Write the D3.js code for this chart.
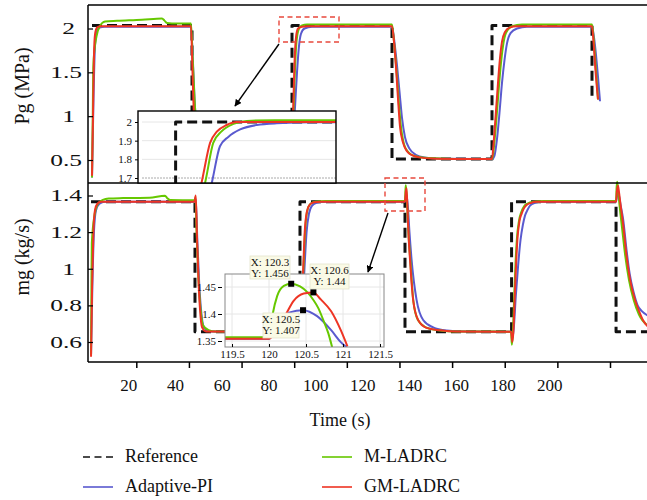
<!DOCTYPE html>
<html>
<head>
<meta charset="utf-8">
<script src="https://cdn.jsdelivr.net/npm/d3@7"></script>
<style>
  body { margin: 0; background: #fff; }
  svg { display: block; }
  svg text { font-family: "Liberation Serif", "Times New Roman", serif; }
</style>
</head>
<body>
<div id="viz"></div>
<script>
const WIDTH = 647, HEIGHT = 500;
const FONT = "Liberation Serif, Times New Roman, serif";
const COLORS = { ref: "#111", pi: "#5a5acf", m: "#66c800", gm: "#ee3424" };

// ---- Pg (MPa), upper panel: [time s, value] ----
const pgRef = [[0,2.035],[40,2.035],[40,0.51],[80,0.51],[80,2.035],[120,2.035],[120,0.51],[160,0.51],[160,2.035],[200,2.035],[200,1.19]];
const pgPI = [[0,0.3],[0.6,1.2],[1.2,1.8],[2,1.97],[3,2.01],[5,2.02],[39.6,2.02],[40.4,1.6],[41.2,1.1],[42.4,0.74],[44,0.58],[48,0.52],[55,0.512],[79.8,0.51],[80.4,0.7],[81.2,1.1],[82,1.5],[82.8,1.8],[83.6,1.94],[85,2.0],[88,2.02],[120,2.02],[121,1.84],[122,1.58],[123,1.28],[124,0.98],[125.2,0.76],[127,0.63],[129.5,0.56],[133,0.53],[140,0.515],[160,0.51],[161,0.55],[162,0.74],[163,1.04],[164,1.38],[165,1.64],[166,1.83],[167.5,1.95],[170,2.0],[174,2.02],[200,2.02],[200.8,1.9],[201.6,1.7],[202.4,1.45],[203.2,1.17]];
const pgM = [[0,0.3],[0.3,1.0],[0.5,1.55],[1,1.76],[1.8,1.91],[3.2,2.03],[5.2,2.08],[10,2.088],[20,2.1],[28,2.115],[29,2.09],[30,2.062],[32,2.058],[39.6,2.058],[40.2,1.7],[41,1.2],[42,0.8],[44,0.58],[48,0.52],[79.8,0.51],[80.3,0.8],[81,1.4],[81.8,1.85],[82.8,2.0],[84,2.035],[86,2.045],[120,2.045],[120.8,1.85],[121.7,1.55],[122.6,1.2],[123.5,0.9],[124.8,0.68],[126.5,0.59],[129,0.545],[134,0.522],[145,0.512],[160,0.51],[160.4,0.56],[161.4,0.84],[162.4,1.2],[163.4,1.55],[164.4,1.8],[165.6,1.95],[168,2.025],[172,2.045],[200,2.045],[200.6,1.9],[201.4,1.6],[202.4,1.19]];
const pgGM = [[0,0.32],[0.4,1.0],[0.8,1.7],[1.2,1.93],[2,2.01],[3.2,2.025],[39.6,2.025],[40.2,1.5],[40.8,1.0],[42,0.66],[44,0.54],[48,0.515],[79.8,0.51],[80.4,1.0],[81,1.6],[81.6,1.9],[82.4,2.0],[84,2.02],[86,2.025],[120,2.025],[120.8,1.85],[121.6,1.56],[122.4,1.2],[123.2,0.88],[124.4,0.7],[126,0.6],[128,0.555],[131,0.53],[136,0.517],[145,0.512],[160,0.51],[160.6,0.68],[161.4,0.98],[162.2,1.3],[163,1.6],[164,1.85],[165.2,1.96],[167,2.01],[170,2.025],[200,2.025],[200.6,1.85],[201.4,1.52],[202.4,1.19]];

// ---- mg (kg/s), lower panel ----
const mgRef = [[2.8,1.366],[42.3,1.366],[42.3,0.656],[82.2,0.656],[82.2,1.366],[122.1,1.366],[122.1,0.656],[162.6,0.656],[162.6,1.366],[202.3,1.366],[202.3,0.656],[216,0.656]];
const mgPI = [[2.8,0.53],[3.3,0.9],[3.9,1.2],[4.7,1.32],[6,1.355],[8,1.366],[42.2,1.366],[42.6,1.38],[43.2,1.15],[43.9,0.92],[44.7,0.76],[45.7,0.68],[47.5,0.66],[50,0.657],[82.4,0.656],[83.2,0.8],[83.9,1.0],[84.7,1.2],[85.6,1.3],[86.8,1.345],[88.5,1.36],[92,1.366],[122.1,1.366],[122.3,1.39],[122.55,1.407],[122.9,1.38],[123.2,1.34],[123.8,1.2],[124.6,1.05],[126.5,0.83],[129,0.72],[132.8,0.68],[137.9,0.663],[145,0.657],[162.5,0.656],[162.9,0.62],[163.4,0.67],[164.2,0.85],[165.1,1.02],[166,1.157],[166.9,1.24],[167.7,1.29],[168.6,1.32],[169.6,1.345],[171.5,1.36],[174,1.366],[202.3,1.366],[202.7,1.40],[203,1.42],[203.4,1.40],[204,1.35],[205,1.27],[206.3,1.1],[207.5,0.97],[209,0.87],[210.5,0.8],[212,0.77],[214.3,0.745]];
const mgM = [[2.8,0.53],[2.95,0.9],[3.1,1.14],[4.2,1.3],[5.2,1.35],[7.3,1.376],[9.5,1.384],[15,1.386],[25,1.388],[30.9,1.399],[31.8,1.385],[32.8,1.376],[42.2,1.374],[42.5,1.39],[42.9,1.2],[43.6,0.95],[44.4,0.78],[45.4,0.69],[47.5,0.665],[50,0.658],[82.3,0.656],[82.9,0.8],[83.5,1.0],[84.2,1.22],[85,1.32],[86.2,1.355],[88,1.366],[92,1.37],[122.1,1.37],[122.25,1.42],[122.4,1.456],[122.7,1.41],[122.95,1.34],[123.4,1.2],[124.1,1.05],[125.3,0.82],[127,0.72],[130,0.68],[134,0.665],[140,0.658],[162.4,0.656],[162.7,0.585],[163.1,0.65],[163.6,0.85],[164.1,1.03],[164.6,1.16],[165.4,1.26],[166.3,1.31],[167.3,1.34],[168.5,1.355],[171,1.366],[175,1.37],[202.3,1.37],[202.5,1.44],[202.7,1.475],[203,1.44],[203.6,1.35],[204.6,1.22],[205.8,1.07],[207.2,0.94],[209,0.83],[211,0.75],[214.3,0.69]];
const mgGM = [[2.8,0.52],[3.2,0.9],[3.7,1.2],[4.3,1.32],[5.2,1.355],[6.5,1.366],[42.1,1.366],[42.6,1.40],[43,1.2],[43.6,0.95],[44.2,0.78],[45,0.68],[46.5,0.658],[82.3,0.656],[82.8,0.75],[83.3,0.95],[84,1.2],[84.8,1.31],[85.9,1.35],[87.5,1.363],[90,1.366],[122.1,1.366],[122.4,1.42],[122.7,1.44],[123.1,1.3],[123.5,1.17],[124,1.05],[125.2,0.83],[127.1,0.72],[130.3,0.677],[135.4,0.664],[142,0.657],[162.4,0.656],[162.9,0.60],[163.3,0.66],[163.8,0.85],[164.3,1.02],[164.8,1.157],[165.6,1.26],[166.4,1.30],[167.3,1.33],[168.3,1.348],[170,1.36],[172,1.366],[202.3,1.366],[202.6,1.42],[203,1.455],[203.4,1.42],[204,1.35],[205,1.24],[206.2,1.08],[207.5,0.95],[209.5,0.83],[211,0.77],[212.5,0.72],[214.3,0.685]];

// ---- zoom of Pg around t = 80 ----
const zpRef = [[80,1.66],[80,2.0],[84.05,2.0]];
const zpPI = [[80.9,1.66],[80.94,1.7],[81.12,1.87],[81.33,1.92],[81.63,1.96],[82.05,1.984],[82.55,1.993],[83.5,1.998],[84.05,1.998]];
const zpM = [[80.73,1.66],[80.77,1.7],[80.95,1.888],[81.16,1.95],[81.46,1.99],[81.8,2.006],[82.5,2.01],[84.05,2.01]];
const zpGM = [[80.64,1.66],[80.68,1.7],[80.87,1.888],[81.04,1.948],[81.29,1.984],[81.54,2.0],[84.05,2.0]];
const zpTicks = [1.7, 1.8, 1.9, 2];

// ---- zoom of mg around t = 120 ----
const zmPI = [[119.4,1.354],[120,1.354],[120.15,1.385],[120.28,1.403],[120.46,1.407],[120.65,1.396],[120.84,1.37],[120.97,1.348],[121.08,1.335]];
const zmM = [[119.4,1.357],[120,1.357],[120.05,1.40],[120.11,1.433],[120.2,1.452],[120.3,1.456],[120.42,1.451],[120.52,1.44],[120.6,1.426],[120.67,1.41],[120.73,1.39],[120.8,1.365],[120.86,1.335]];
const zmGM = [[119.4,1.354],[120,1.354],[120.1,1.37],[120.23,1.40],[120.33,1.424],[120.47,1.438],[120.6,1.44],[120.7,1.427],[120.84,1.405],[120.97,1.37],[121.06,1.34]];
const zmXTicks = [119.5, 120, 120.5, 121, 121.5];
const zmYTicks = [1.35, 1.4, 1.45];
const tipT = [120.3, 120.6, 120.46];
const tipV = [1.456, 1.44, 1.407];
const tipLabels = [["X: 120.3", "Y: 1.456"], ["X: 120.6", "Y: 1.44"], ["X: 120.5", "Y: 1.407"]];

const timeTicks = [20, 40, 60, 80, 100, 120, 140, 160, 180, 200];
const pgTicks = [0.5, 1, 1.5, 2];
const mgTicks = [0.6, 0.8, 1, 1.2, 1.4];
const legendNames = ["Reference", "Adaptive-PI", "M-LADRC", "GM-LADRC"];

const svg = d3.select("#viz").append("svg")
  .attr("width", WIDTH)
  .attr("height", HEIGHT)
  .attr("font-family", FONT);

svg.append("rect").attr("width", WIDTH).attr("height", HEIGHT).attr("fill", "#fff");

const defs = svg.append("defs");
defs.append("marker")
  .attr("id", "arrow")
  .attr("viewBox", "0 0 10 10")
  .attr("refX", 9).attr("refY", 5)
  .attr("markerWidth", 7).attr("markerHeight", 7)
  .attr("markerUnits", "userSpaceOnUse")
  .attr("orient", "auto")
  .append("path").attr("d", "M0,0 L10,5 L0,10 z").attr("fill", "#000");

function clip(id, x, y, w, h) {
  defs.append("clipPath").attr("id", id)
    .append("rect").attr("x", x).attr("y", y).attr("width", w).attr("height", h);
  return `url(#${id})`;
}

// scales
const xTop = d3.scaleLinear().domain([0, 200]).range([92, 592]);
const yTop = d3.scaleLinear().domain([0.5, 2]).range([160, 28.5]);
const xBot = d3.scaleLinear().domain([20, 200]).range([136.3, 610]);
const yBot = d3.scaleLinear().domain([0.6, 1.4]).range([342, 195.5]);
const xLab = d3.scaleLinear().domain([20, 200]).range([128.3, 549.2]);

function drawSeries(g, x, y, sets, width) {
  sets.forEach(s => {
    const line = d3.line().x(d => x(d[0])).y(d => y(d[1]))
      .curve(s.ref ? d3.curveLinear : d3.curveMonotoneX);
    g.append("path")
      .attr("d", line(s.data))
      .attr("fill", "none")
      .attr("stroke", s.color)
      .attr("stroke-width", s.ref ? 3 : width)
      .attr("stroke-dasharray", s.ref ? "10,5" : null)
      .attr("stroke-linejoin", "round");
  });
}

function styleText(sel, size) {
  sel.attr("font-family", FONT)
    .style("font-family", FONT)
    .style("font-size", size + "px")
    .attr("fill", "#111");
}

// upper panel
const gTop = svg.append("g").attr("clip-path", clip("cTop", 88, 5, WIDTH - 88, 178));
drawSeries(gTop, xTop, yTop, [
  { data: pgRef, color: COLORS.ref, ref: true },
  { data: pgPI, color: COLORS.pi },
  { data: pgM, color: COLORS.m },
  { data: pgGM, color: COLORS.gm }
], 2);

// lower panel
const gBot = svg.append("g").attr("clip-path", clip("cBot", 88, 178, WIDTH - 88, 184));
drawSeries(gBot, xBot, yBot, [
  { data: mgRef, color: COLORS.ref, ref: true },
  { data: mgPI, color: COLORS.pi },
  { data: mgM, color: COLORS.m },
  { data: mgGM, color: COLORS.gm }
], 2);

// frame
[[88, 5, WIDTH, 5], [88, 183, WIDTH, 183], [88, 362, WIDTH, 362], [88, 5, 88, 362]].forEach(l => {
  svg.append("line")
    .attr("x1", l[0]).attr("y1", l[1]).attr("x2", l[2]).attr("y2", l[3])
    .attr("stroke", "#000").attr("stroke-width", 1.5);
});

// y axes
function yAxis(scale, ticks) {
  const g = svg.append("g").attr("transform", "translate(88,0)")
    .call(d3.axisLeft(scale).tickValues(ticks).tickSize(-5).tickFormat(d => String(d)));
  g.attr("font-family", FONT);
  g.select(".domain").remove();
  g.selectAll(".tick line").attr("stroke", "#000").attr("stroke-width", 1.2);
  g.selectAll(".tick text")
    .attr("x", 0)
    .attr("text-anchor", "end")
    .attr("transform", d => `translate(${Number.isInteger(d) ? -13 : -6},0) scale(1.5,1)`)
    .call(styleText, 17);
}
yAxis(yTop, pgTicks);
yAxis(yBot, mgTicks);

// x axis: tick marks on the time scale, labels where the figure prints them
const xTicks = svg.append("g").attr("transform", "translate(0,362)")
  .call(d3.axisBottom(xBot).tickValues(timeTicks).tickSize(6).tickFormat(""));
xTicks.select(".domain").remove();
xTicks.selectAll(".tick line").attr("stroke", "#000").attr("stroke-width", 1.5);

const xLabels = svg.append("g").attr("transform", "translate(0,362)")
  .call(d3.axisBottom(xLab).tickValues(timeTicks).tickSize(0).tickPadding(17));
xLabels.attr("font-family", FONT);
xLabels.select(".domain").remove();
xLabels.selectAll(".tick text").call(styleText, 17);

// axis titles
svg.append("text")
  .attr("transform", "translate(29,86) rotate(-90)")
  .attr("text-anchor", "middle")
  .call(styleText, 20)
  .text("Pg (MPa)");
svg.append("text")
  .attr("transform", "translate(29,257) rotate(-90)")
  .attr("text-anchor", "middle")
  .call(styleText, 20)
  .text("mg (kg/s)");
svg.append("text")
  .attr("x", 340).attr("y", 426)
  .attr("text-anchor", "middle")
  .call(styleText, 18)
  .text("Time (s)");

// zoom markers and arrows
function dashedBox(x, y, w, h) {
  svg.append("rect")
    .attr("x", x).attr("y", y).attr("width", w).attr("height", h)
    .attr("fill", "none").attr("stroke", "#e8483c")
    .attr("stroke-width", 1.4).attr("stroke-dasharray", "5,3.5");
}
function arrow(x1, y1, x2, y2) {
  svg.append("line")
    .attr("x1", x1).attr("y1", y1).attr("x2", x2).attr("y2", y2)
    .attr("stroke", "#000").attr("stroke-width", 1.4)
    .attr("marker-end", "url(#arrow)");
}
dashedBox(279, 17, 60, 25);
arrow(279, 44, 235, 106);
dashedBox(385, 178, 40, 33);
arrow(388, 213, 368, 272);

// ---- inset 1 (Pg) ----
const z1 = { x: 138, y: 111, w: 198, h: 72 };
const xZ1 = d3.scaleLinear().domain([79.05, 84.05]).range([z1.x, z1.x + z1.w]);
const yZ1 = d3.scaleLinear().domain([1.7, 2.0]).range([178, 122]);
const gZ1 = svg.append("g");
gZ1.append("rect")
  .attr("x", z1.x).attr("y", z1.y).attr("width", z1.w).attr("height", z1.h)
  .attr("fill", "#fff");
gZ1.selectAll("line.grid")
  .data(zpTicks)
  .join("line")
  .attr("class", "grid")
  .attr("x1", z1.x + 4).attr("x2", z1.x + z1.w)
  .attr("y1", d => yZ1(d)).attr("y2", d => yZ1(d))
  .attr("stroke", d => d === 1.7 ? "#aaa" : "#e6e6e6")
  .attr("stroke-dasharray", d => d === 1.7 ? "2,1" : null)
  .attr("stroke-width", 1);
const gZ1lines = gZ1.append("g").attr("clip-path", clip("cZ1", z1.x, z1.y, z1.w, z1.h));
drawSeries(gZ1lines, xZ1, yZ1, [
  { data: zpRef, color: COLORS.ref, ref: true },
  { data: zpPI, color: COLORS.pi },
  { data: zpM, color: COLORS.m },
  { data: zpGM, color: COLORS.gm }
], 2);
gZ1.append("rect")
  .attr("x", z1.x).attr("y", z1.y).attr("width", z1.w).attr("height", z1.h)
  .attr("fill", "none").attr("stroke", "#000").attr("stroke-width", 1.4);
const z1Axis = gZ1.append("g").attr("transform", `translate(${z1.x},0)`)
  .call(d3.axisLeft(yZ1).tickValues(zpTicks).tickSize(3).tickPadding(3).tickFormat(d => String(d)));
z1Axis.select(".domain").remove();
z1Axis.selectAll("text").call(styleText, 11);

// ---- inset 2 (mg) ----
const z2 = { x: 225, y: 274, w: 159, h: 73 };
const xZ2 = d3.scaleLinear().domain([119.5, 121.5]).range([232, 380]);
const yZ2 = d3.scaleLinear().domain([1.35, 1.45]).range([341, 287]);
const gZ2 = svg.append("g");
gZ2.append("rect")
  .attr("x", z2.x).attr("y", z2.y).attr("width", z2.w).attr("height", z2.h)
  .attr("fill", "#fff");
gZ2.selectAll("line.gx")
  .data(zmXTicks)
  .join("line")
  .attr("class", "gx")
  .attr("x1", d => xZ2(d)).attr("x2", d => xZ2(d))
  .attr("y1", z2.y).attr("y2", z2.y + z2.h)
  .attr("stroke", "#e6e6e6");
gZ2.selectAll("line.gy")
  .data(zmYTicks)
  .join("line")
  .attr("class", "gy")
  .attr("x1", z2.x).attr("x2", z2.x + z2.w)
  .attr("y1", d => yZ2(d)).attr("y2", d => yZ2(d))
  .attr("stroke", "#e6e6e6");
const gZ2lines = gZ2.append("g").attr("clip-path", clip("cZ2", z2.x, z2.y, z2.w, z2.h));
drawSeries(gZ2lines, xZ2, yZ2, [
  { data: zmPI, color: COLORS.pi },
  { data: zmM, color: COLORS.m },
  { data: zmGM, color: COLORS.gm }
], 2);
gZ2.append("rect")
  .attr("x", z2.x).attr("y", z2.y).attr("width", z2.w).attr("height", z2.h)
  .attr("fill", "none").attr("stroke", "#888").attr("stroke-width", 1);
const z2x = gZ2.append("g").attr("transform", `translate(0,${z2.y + z2.h})`)
  .call(d3.axisBottom(xZ2).tickValues(zmXTicks).tickSize(-3).tickPadding(3).tickFormat(d => String(d)));
z2x.select(".domain").remove();
z2x.selectAll("text").call(styleText, 11);
const z2y = gZ2.append("g").attr("transform", `translate(${z2.x - 3},0)`)
  .call(d3.axisLeft(yZ2).tickValues(zmYTicks).tickSize(4).tickPadding(2).tickFormat(d => String(d)));
z2y.select(".domain").remove();
z2y.selectAll("text").call(styleText, 11);

// data tips
const tipBoxes = [{ x: 250, y: 256, w: 40, h: 23 }, { x: 310, y: 264, w: 39, h: 25 }, { x: 263, y: 313, w: 36, h: 25 }];
tipBoxes.forEach((b, i) => {
  gZ2.append("rect")
    .attr("x", b.x).attr("y", b.y).attr("width", b.w).attr("height", b.h)
    .attr("fill", "#fafae6").attr("stroke", "#e4e4cc").attr("stroke-width", 0.8);
  tipLabels[i].forEach((t, j) => {
    gZ2.append("text")
      .attr("x", b.x + b.w / 2)
      .attr("y", b.y + 10 + j * 10.5)
      .attr("text-anchor", "middle")
      .call(styleText, 11)
      .text(t);
  });
});
gZ2.selectAll("rect.tip")
  .data(tipT)
  .join("rect")
  .attr("class", "tip")
  .attr("x", d => xZ2(d) - 3)
  .attr("y", (d, i) => yZ2(tipV[i]) - 3)
  .attr("width", 6).attr("height", 6)
  .attr("fill", "#000");

// legend
const legendPos = [[83, 457], [83, 487], [322, 457], [322, 487]];
const legendColors = [COLORS.ref, COLORS.pi, COLORS.m, COLORS.gm];
legendNames.forEach((name, i) => {
  const [lx, ly] = legendPos[i];
  svg.append("line")
    .attr("x1", lx).attr("x2", lx + 30)
    .attr("y1", ly).attr("y2", ly)
    .attr("stroke", legendColors[i])
    .attr("stroke-width", i === 0 ? 1.5 : 2)
    .attr("stroke-dasharray", i === 0 ? "7,4.5" : null)
    .attr("opacity", i === 0 ? 1 : 0.8);
  svg.append("text")
    .attr("x", lx + 42).attr("y", ly + 5)
    .call(styleText, 18)
    .text(name);
});
</script>
</body>
</html>
